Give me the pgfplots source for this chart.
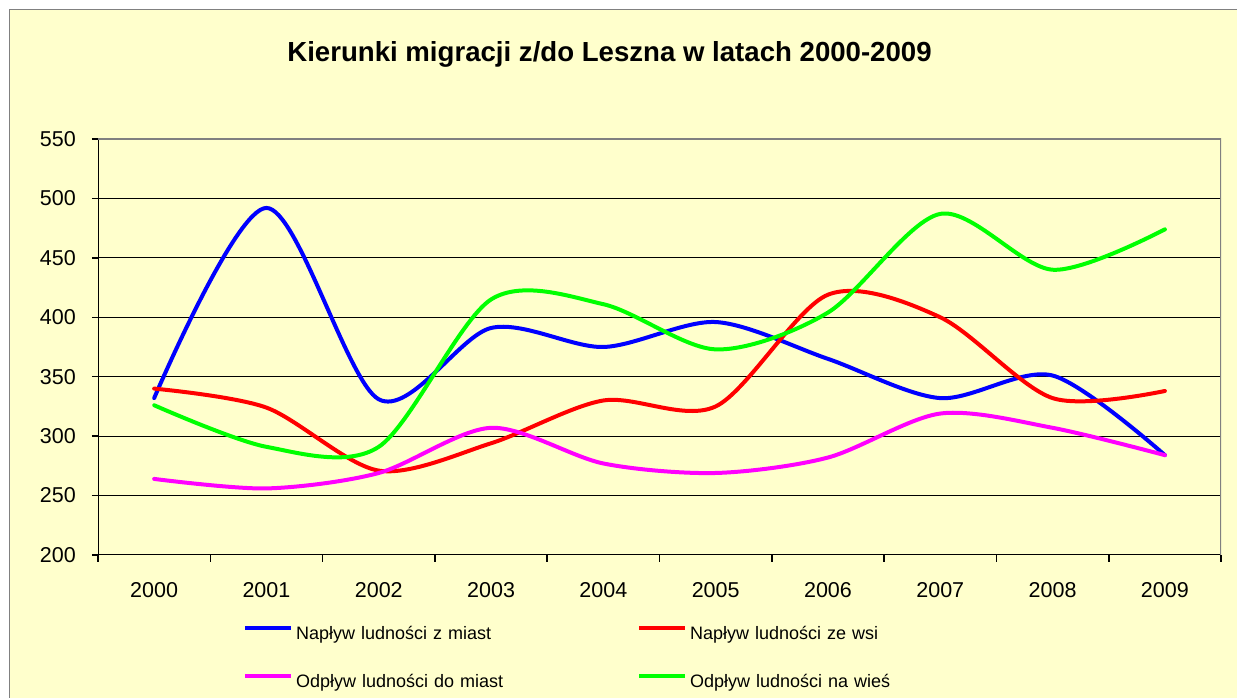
\documentclass[border=0pt]{standalone}
\usepackage{pgfplots}
\pgfplotsset{compat=1.18}
\usepackage{fontspec}
\setmainfont{Liberation Sans}
\definecolor{bgy}{RGB}{255,255,204}
\definecolor{framegray}{RGB}{128,128,128}
\definecolor{sblue}{RGB}{0,0,255}
\definecolor{sred}{RGB}{255,0,0}
\definecolor{smag}{RGB}{255,0,255}
\definecolor{sgreen}{RGB}{0,255,0}
\begin{document}
\begin{tikzpicture}
\fill[white] (0pt,0pt) rectangle (1237pt,698pt);
\fill[bgy] (9pt,-10pt) rectangle (1250pt,688pt);
\draw[framegray, line width=1pt] (9pt,-10pt) -- (9pt,688pt) -- (1250pt,688pt);
\node[anchor=base, inner sep=0pt, font=\fontsize{27.6}{32}\selectfont\bfseries] at (609.5pt,636pt) {Kierunki migracji z/do Leszna w latach 2000-2009};
\begin{axis}[
  at={(98pt,143pt)}, anchor=south west,
  scale only axis, width=1123pt, height=416pt,
  xmin=-0.5, xmax=9.5, ymin=200, ymax=550,
  ytick={200,250,300,350,400,450,500,550},
  xtick={0,1,2,3,4,5,6,7,8,9},
  xticklabels={2000,2001,2002,2003,2004,2005,2006,2007,2008,2009},
  minor xtick={-0.5,0.5,1.5,2.5,3.5,4.5,5.5,6.5,7.5,8.5,9.5},
  tick pos=left, tick align=outside,
  major tick length=6pt, minor tick length=7pt,
  major x tick style={draw=none},
  minor x tick style={black, line width=1.5pt},
  major y tick style={black, line width=1.5pt},
  ymajorgrids, major grid style={black, line width=1pt},
  axis line style={draw=none},
  /pgf/number format/assume math mode=true,
  ticklabel style={font=\fontsize{21.5}{25}\selectfont},
  yticklabel style={inner sep=0pt, anchor=east, xshift=-16pt},
  xticklabel style={inner sep=0pt, anchor=north, yshift=-21pt},
  legend columns=2,
  legend cell align=left,
  legend style={draw=none, fill=none, at={(axis description cs:0.12912,-0.17067)}, anchor=north west,
    inner sep=0pt, outer sep=0pt, column sep=3pt, row sep=30.5pt,
    font=\fontsize{18}{21}\selectfont,
    nodes={inner sep=0pt, text height=13pt, text depth=4pt, text width=338pt}},
  legend image code/.code={\draw[#1, line width=4pt, line cap=butt] (0pt,7pt) -- (46pt,7pt);},
  every axis plot/.append style={line width=4pt, line cap=round, line join=round, smooth, tension=0.5},
]
\addplot[sblue] coordinates {(0,332) (1,492) (2,331) (3,391) (4,375) (5,396) (6,365) (7,332) (8,351) (9,284)};
\addlegendentry{Napływ ludności z miast}
\addplot[sred] coordinates {(0,340) (1,324) (2,271) (3,294) (4,330) (5,325) (6,419) (7,400) (8,332) (9,338)};
\addlegendentry{Napływ ludności ze wsi}
\addplot[smag] coordinates {(0,264) (1,256) (2,269) (3,307) (4,277) (5,269) (6,282) (7,319) (8,307) (9,284)};
\addlegendentry{Odpływ ludności do miast}
\addplot[sgreen] coordinates {(0,326) (1,291) (2,291) (3,415) (4,411) (5,373) (6,404) (7,487) (8,440) (9,474)};
\addlegendentry{Odpływ ludności na wieś}
\draw[black, line width=2pt] (rel axis cs:0,1) -- (rel axis cs:0,0) -- (rel axis cs:1,0);
\draw[framegray, line width=2pt] (rel axis cs:0,1) -- (rel axis cs:1,1) -- (rel axis cs:1,0);
\end{axis}
\pgfresetboundingbox
\path[use as bounding box] (0pt,0pt) rectangle (1237pt,698pt);
\end{tikzpicture}
\end{document}
